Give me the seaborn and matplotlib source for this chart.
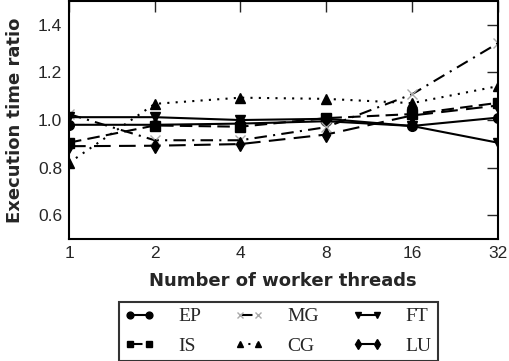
import numpy as np
import pandas as pd
import matplotlib
matplotlib.use("Agg")
import matplotlib.pyplot as plt
import seaborn as sns

# Data
threads = [1, 2, 4, 8, 16, 32]
ep = [0.98, 0.98, 0.985, 0.995, 0.975, 1.01]
is_ = [0.905, 0.977, 0.972, 1.008, 1.025, 1.072]
mg = [1.025, 0.915, 0.915, 0.97, 1.108, 1.322]
cg = [0.82, 1.068, 1.094, 1.089, 1.071, 1.142]
ft = [1.012, 1.012, 1.0, 1.005, 0.975, 0.905]
lu = [0.89, 0.892, 0.899, 0.939, 1.019, 1.061]

series_names = ["EP", "IS", "MG", "CG", "FT", "LU"]
series_values = [ep, is_, mg, cg, ft, lu]

df = pd.DataFrame({
    "threads": threads * len(series_names),
    "ratio": sum(series_values, []),
    "bench": np.repeat(series_names, len(threads)),
})

styles = {
    "EP": dict(marker="o", dashes=None, mfc="black", mec="black"),
    "IS": dict(marker="s", dashes=(6, 3), mfc="black", mec="black"),
    "MG": dict(marker="x", dashes=(6, 3, 1, 3), mfc="#aaaaaa", mec="#aaaaaa"),
    "CG": dict(marker="^", dashes=(1, 3), mfc="black", mec="black"),
    "FT": dict(marker="v", dashes=None, mfc="black", mec="black"),
    "LU": dict(marker="d", dashes=(8, 4), mfc="black", mec="black"),
}

sns.set_style("white")
plt.rcParams["font.family"] = ["Liberation Sans", "DejaVu Sans"]

fig = plt.figure(figsize=(5.09, 3.61), dpi=100)
ax = fig.add_axes([0.1356, 0.338, 0.842, 0.659])

for name in series_names:
    st = styles[name]
    sub = df[df["bench"] == name]
    sns.lineplot(data=sub, x="threads", y="ratio", ax=ax, color="black",
                 linewidth=1.5, marker=st["marker"], markersize=7,
                 markerfacecolor=st["mfc"], markeredgecolor=st["mec"],
                 markeredgewidth=1.0, label=name, legend=False)
    if st["dashes"] is not None:
        ax.lines[-1].set_dashes(st["dashes"])

ax.set_xscale("log", base=2)
ax.set_xlim(1, 32)
ax.set_ylim(0.5, 1.5)
ax.set_xticks(threads)
ax.set_xticklabels([str(t) for t in threads])
ax.set_yticks([0.6, 0.8, 1.0, 1.2, 1.4])
ax.minorticks_off()
ax.tick_params(direction="in", length=8, width=1, top=True, right=True,
               labelsize=12.5, pad=5)
for sp in ax.spines.values():
    sp.set_linewidth(1.5)
    sp.set_color("black")

ax.set_xlabel("Number of worker threads", fontsize=13, fontweight="bold",
              family=["DejaVu Sans"], labelpad=8)
ax.set_ylabel("Execution time ratio", fontsize=13, fontweight="bold",
              family=["DejaVu Sans"], labelpad=10)

leg = ax.legend(loc="upper center", bbox_to_anchor=(0.488, -0.265), ncol=3,
                frameon=True, fancybox=False, numpoints=2, handlelength=1.55,
                columnspacing=1.7, handletextpad=1.2, borderpad=0.3,
                labelspacing=0.6, markerscale=0.7, borderaxespad=0,
                prop={"family": "Liberation Serif", "size": 14})
leg.get_frame().set_edgecolor("black")
leg.get_frame().set_linewidth(1.5)

fig.savefig("out.png", dpi=100)
